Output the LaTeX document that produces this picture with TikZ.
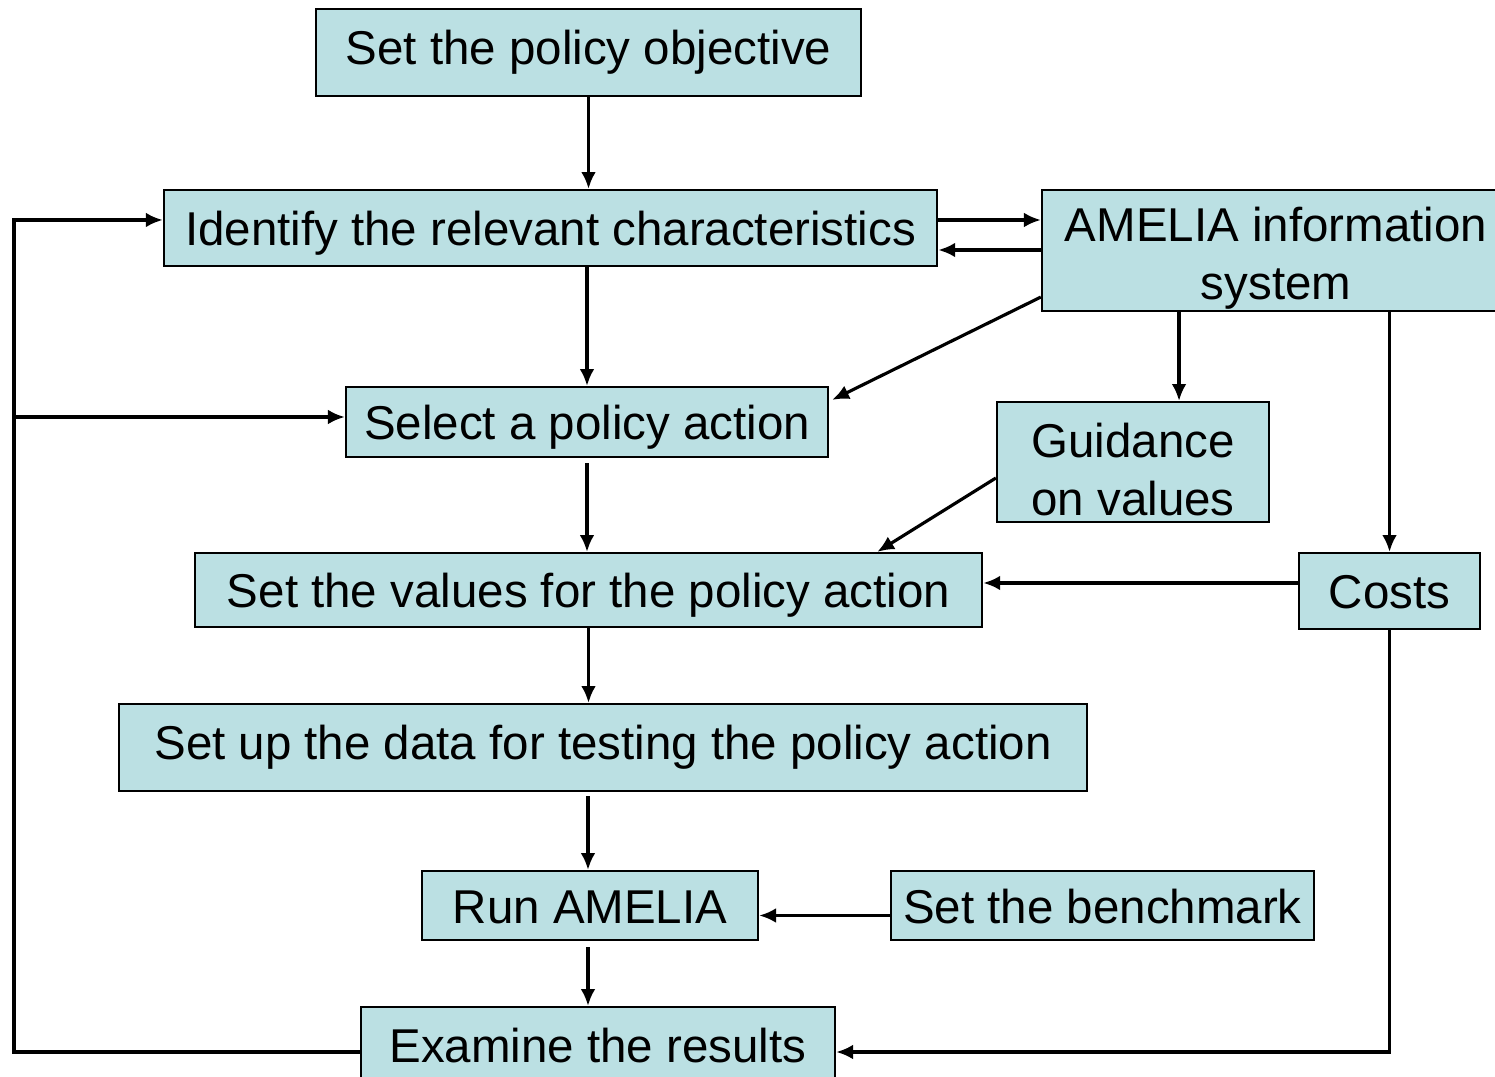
\documentclass[tikz,border=0pt]{standalone}
\usepackage{fontspec}
\setmainfont{Liberation Sans}
\usetikzlibrary{arrows.meta}
\definecolor{boxfill}{RGB}{187,224,227}
\newcommand{\liftline}{\rule{0pt}{14pt}}

\tikzset{
	stage/.style={draw, fill=boxfill, line width=0.6pt, inner sep=0pt, align=center,
		font=\fontsize{13.5}{16.5}\selectfont},
	oneline/.style={stage, text height=12.8pt, text depth=2.8pt},
	tallline/.style={stage, text height=12.8pt, text depth=6.2pt},
	link/.style={->, line width=0.9pt}
}

\begin{document}
\begin{tikzpicture}[x=0.01cm,y=-0.01cm,>={Latex[length=4.8pt,width=4.2pt]}]
	\useasboundingbox (0,0) rectangle (1495,1077);

	% boxes
	\node[tallline, minimum width=5.45cm, minimum height=0.87cm] (obj) at (588.5,52.5) {Set the policy objective};
	\node[oneline, minimum width=7.73cm, minimum height=0.76cm] (ident) at (550.5,228) {Identify the relevant characteristics};
	\node[stage, minimum width=4.68cm, minimum height=1.21cm] (amelia) at (1276,250.5) {\liftline AMELIA information\\system};
	\node[oneline, minimum width=4.82cm, minimum height=0.70cm] (select) at (587,422) {Select a policy action};
	\node[stage, minimum width=2.72cm, minimum height=1.20cm] (guid) at (1133,462) {\liftline Guidance\\on values};
	\node[oneline, minimum width=7.87cm, minimum height=0.74cm] (setval) at (588.5,590) {Set the values for the policy action};
	\node[oneline, minimum width=1.81cm, minimum height=0.76cm] (costs) at (1389.5,591) {Costs};
	\node[tallline, minimum width=9.68cm, minimum height=0.87cm] (setup) at (603,747.5) {Set up the data for testing the policy action};
	\node[oneline, minimum width=3.36cm, minimum height=0.69cm] (run) at (590,905.5) {Run AMELIA};
	\node[oneline, minimum width=4.23cm, minimum height=0.69cm] (bench) at (1102.5,905.5) {Set the benchmark};
	\node[oneline, minimum width=4.74cm, minimum height=0.76cm] (exam) at (598,1045) {Examine the results};

	\coordinate (lft) at (14,0);

	% main chain
	\draw[link] (obj.south) -- (obj.south |- ident.north);
	\draw[link] (select.north |- ident.south) -- (select.north);
	\draw[link] ([yshift=-0.05cm]select.south) -- (select.south |- setval.north);
	\draw[link] (setval.south) -- (setval.south |- setup.north);
	\draw[link] ([xshift=-0.02cm,yshift=-0.04cm]run.north |- setup.south) -- ([xshift=-0.02cm]run.north);
	\draw[link] ([xshift=-0.02cm,yshift=-0.06cm]run.south) -- ([xshift=-0.02cm]run.south |- exam.north);

	% AMELIA information system
	\draw[link] ([yshift=0.08cm]ident.east) -- ([yshift=0.08cm]ident.east -| amelia.west);
	\draw[link] ([yshift=-0.22cm]ident.east -| amelia.west) -- ([yshift=-0.22cm]ident.east);
	\draw[link] ([yshift=0.15cm]amelia.south west) -- ([xshift=0.03cm,yshift=-0.14cm]select.north east);
	\draw[link] ([xshift=0.46cm]guid.north |- amelia.south) -- ([xshift=0.46cm]guid.north);
	\draw[link] (costs.north |- amelia.south) -- (costs.north);

	% values and costs
	\draw[link] ([yshift=-0.16cm]guid.west) -- ([xshift=-1.06cm]setval.north east);
	\draw[link] ([yshift=0.08cm]costs.west) -- ([yshift=0.08cm]costs.west -| setval.east);
	\draw[link] ([yshift=-0.1cm]bench.west) -- ([yshift=-0.1cm]run.east);
	\draw[link] (costs.south) |- ([yshift=-0.07cm]exam.east);

	% feedback loop
	\draw[link] ([yshift=-0.07cm]exam.west) -| ([yshift=0.08cm]lft |- ident.west) -- ([yshift=0.08cm]ident.west);
	\draw[link] ([yshift=0.05cm]lft |- select.west) -- ([yshift=0.05cm]select.west);
\end{tikzpicture}
\end{document}
